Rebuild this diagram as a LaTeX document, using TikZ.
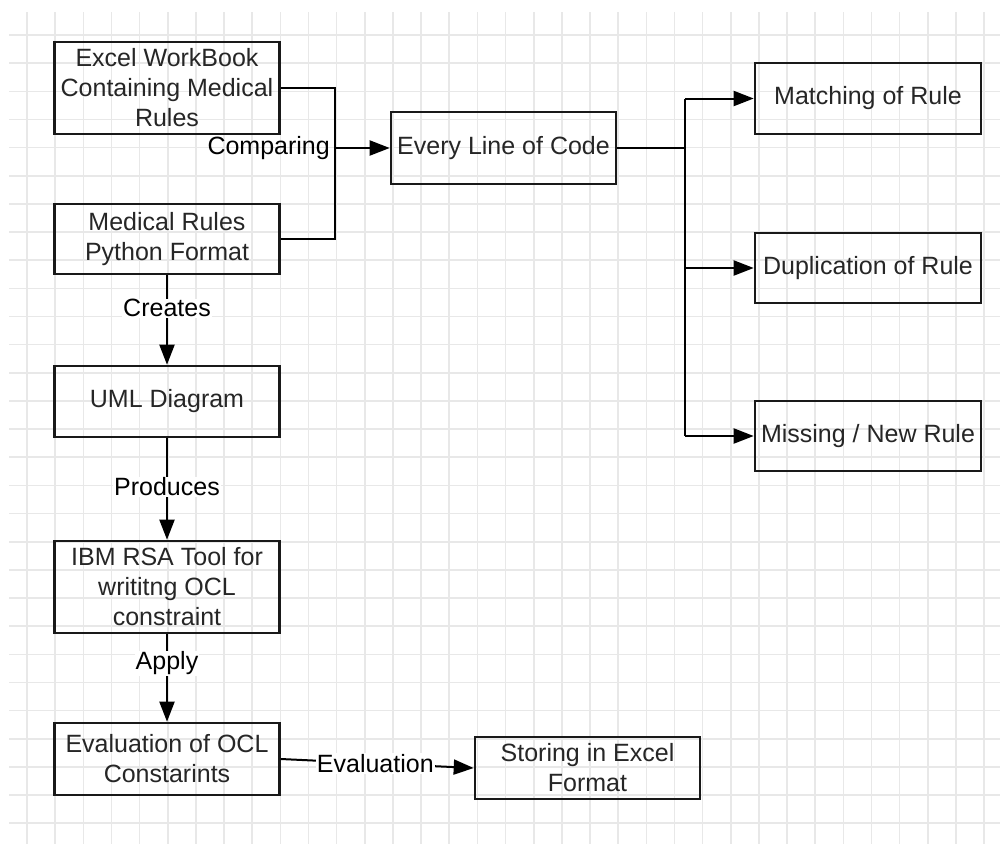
\documentclass[tikz,border=0pt]{standalone}
\usepackage{fontspec}
\setmainfont{Liberation Sans}
\usetikzlibrary{arrows.meta}
\begin{document}
\begin{tikzpicture}[x=1pt,y=-1pt,
  box/.style={draw=black!90, line width=2.6pt, align=center, inner sep=0pt,
    font=\fontsize{25}{30}\selectfont, text=black!85},
  conn/.style={line width=2pt, draw=black},
  bold/.style={line width=2.8pt, draw=black},
  arr/.style={conn, -{Triangle[length=20pt,width=15pt]}},
  lab/.style={fill=white, inner sep=1pt, font=\fontsize{25}{30}\selectfont, text=black}]
\useasboundingbox (0,0) rectangle (1000,844);
\fill[white] (0,0) rectangle (1000,844);
% grid
\foreach \k in {0,...,34} {\draw[gray!18, line width=1.6pt] ({27+28.15*\k},12) -- ({27+28.15*\k},844);}
\foreach \k in {0,...,28} {\draw[gray!18, line width=1.6pt] (9,{35+28.15*\k}) -- (1000,{35+28.15*\k});}
% boxes
\node[box, minimum width=225pt, minimum height=92pt] (ex) at (167,88) {Excel WorkBook\\Containing Medical\\Rules};
\node[box, minimum width=225pt, minimum height=70pt] (med) at (167,239) {Medical Rules\\Python Format};
\node[box, minimum width=225pt, minimum height=72pt] (elc) at (503.5,148) {Every Line of Code};
\node[box, minimum width=226pt, minimum height=71pt] (mat) at (868,98.5) {Matching of Rule};
\node[box, minimum width=226pt, minimum height=70pt] (dup) at (868,268) {Duplication of Rule};
\node[box, minimum width=226pt, minimum height=70pt] (mis) at (868,436) {Missing / New Rule};
\node[box, minimum width=225pt, minimum height=71pt] (uml) at (167,401.5) {UML Diagram};
\node[box, minimum width=225pt, minimum height=92pt] (ibm) at (167,587) {IBM RSA Tool for\\writitng OCL\\constraint};
\node[box, minimum width=225pt, minimum height=72pt] (eva) at (167,759) {Evaluation of OCL\\Constarints};
\node[box, minimum width=225pt, minimum height=62pt] (sto) at (587.5,768) {Storing in Excel\\Format};
% comparing bracket
\coordinate (cj) at (335,148);
\draw[bold] (ex.east) -| (cj) |- (med.east);
\draw[arr] (cj) -- (elc.west);
\node[lab, fill=none, anchor=east] (cmp) at (331,148) {Comparing};
% fan-out bracket
\coordinate (bj) at (685,148);
\draw[conn] (elc.east) -- (bj);
\draw[bold] (bj |- mat.west) -- (bj |- mis.west);
\draw[arr] (bj |- mat.west) -- (mat.west);
\draw[arr] (bj |- dup.west) -- (dup.west);
\draw[arr] (bj |- mis.west) -- (mis.west);
% vertical chain
\draw[arr] (med.south) -- node[lab, pos=0.37] (cr) {Creates} (uml.north);
\draw[arr] (uml.south) -- node[lab, pos=0.48] (pr) {Produces} (ibm.north);
\draw[arr] (ibm.south) -- node[lab, pos=0.33] (ap) {Apply} (eva.north);
\draw[arr] (eva.east) -- node[lab, pos=0.49] (ev) {Evaluation} (sto.west);
\end{tikzpicture}
\end{document}
